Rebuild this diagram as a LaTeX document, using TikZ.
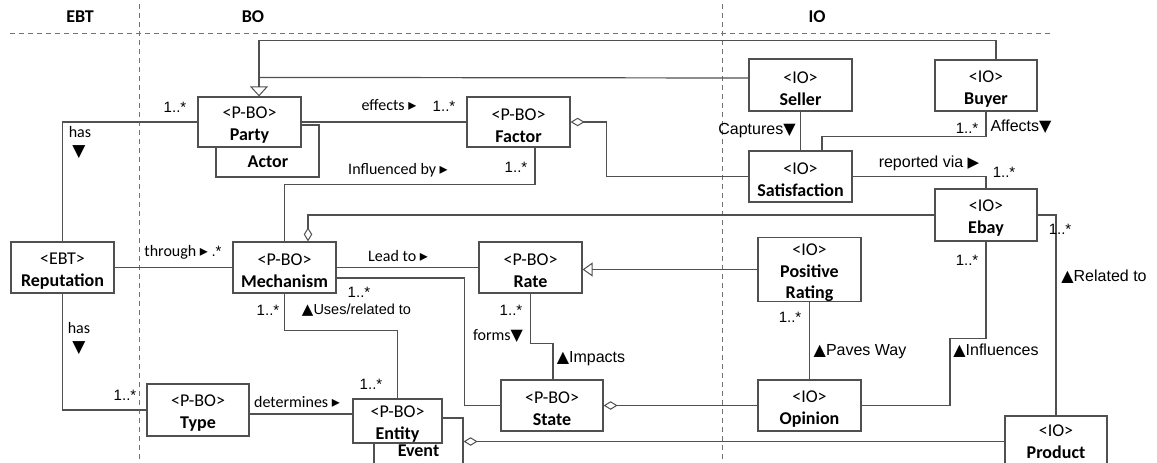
\documentclass[tikz,border=0pt]{standalone}
\usepackage{fontspec}
\setmainfont{Carlito}
\newfontfamily\arialf{Liberation Sans}
\newfontfamily\dejav{DejaVu Sans}
\usetikzlibrary{arrows.meta}
\definecolor{lc}{RGB}{80,80,80}
\definecolor{dc}{RGB}{115,115,115}
\newcommand\tdn[1][16]{{\dejav\fontsize{#1}{#1}\selectfont ▼}}
\newcommand\tup[1][16]{{\dejav\fontsize{#1}{#1}\selectfont ▲}}
\newcommand\trs{{\dejav\fontsize{16}{16}\selectfont ▸}}
\newcommand\trb{{\dejav\fontsize{15}{15}\selectfont ▶}}
\newcommand\fs{\rule{0pt}{18.5pt}}
\tikzset{
 box/.style={draw=lc, line width=1.2pt, fill=white, rectangle, inner sep=0pt, align=center,
   font=\fontsize{18}{22}\selectfont, minimum width=103pt},
 conn/.style={draw=lc, line width=1.2pt},
 agg/.style={conn, {Diamond[open, length=14pt, width=8.5pt, line width=1pt]}-},
 gen/.style={conn, -{Triangle[open, length=10pt, width=18pt, line width=1pt]}},
 gens/.style={conn, -{Triangle[open, length=10pt, width=14pt, line width=1pt]}},
 lbl/.style={inner sep=0pt, font=\fontsize{16}{16}\selectfont},
 albl/.style={inner sep=0pt, font=\arialf\fontsize{16}{16}\selectfont},
 mult/.style={inner sep=0pt, font=\arialf\fontsize{15}{15}\selectfont},
 hdr/.style={inner sep=0pt, font=\bfseries\fontsize{18}{18}\selectfont},
 sep/.style={draw=dc, line width=1pt, dash pattern=on 5pt off 4pt},
}
\begin{document}
\begin{tikzpicture}[x=1pt,y=-1pt]
\useasboundingbox (0,0) rectangle (1157,463);
\clip (0,0) rectangle (1157,463);
\fill[white] (0,0) rectangle (1157,463);

% separators and headers
\draw[sep] (10,33) -- (1050,33);
\draw[sep] (139,4) -- (139,463);
\draw[sep] (722,4) -- (722,463);
\node[hdr] (hebt) at (80,17) {EBT};
\node[hdr] (hbo) at (253,17) {BO};
\node[hdr] (hio) at (817,17) {IO};

% boxes (back ones first)
\node[box, minimum height=52pt] (actor) at (267.5,151) {};
\node[inner sep=0pt, font=\bfseries\fontsize{18}{18}\selectfont] (actortxt) at (268,162) {Actor};
\node[box, minimum height=50pt] (party) at (249.5,122) {\fs<P-BO>\\\textbf{Party}};
\node[box, minimum height=50pt] (factor) at (518.5,122) {\fs<P-BO>\\\textbf{Factor}};
\node[box, minimum height=52pt] (seller) at (800.5,85) {\fs<IO>\\\textbf{Seller}};
\node[box, minimum width=102pt, minimum height=51pt] (buyer) at (986,85.5) {\fs<IO>\\\textbf{Buyer}};
\node[box, minimum height=51pt] (satisfaction) at (800.5,176.5) {\fs<IO>\\\textbf{Satisfaction}};
\node[box, minimum width=102pt, minimum height=52pt] (ebay) at (986,215) {\fs<IO>\\\textbf{Ebay}};
\node[box, minimum height=51pt] (reputation) at (62.5,267.5) {\fs<EBT>\\\textbf{Reputation}};
\node[box, minimum height=51pt] (mechanism) at (284.5,267.5) {\fs<P-BO>\\\textbf{Mechanism}};
\node[box, minimum height=51pt] (rate) at (530.5,267.5) {\fs<P-BO>\\\textbf{Rate}};
\node[box, minimum height=63pt, font=\fontsize{18}{21.5}\selectfont] (posrating) at (809.5,269.5) {\fs<IO>\\\textbf{Positive}\\\textbf{Rating}};
\node[box, minimum width=102pt, minimum height=52pt] (type) at (198,410) {\fs<P-BO>\\\textbf{Type}};
\node[box, minimum width=89pt, minimum height=66pt] (event) at (418.5,451) {\textbf{Event}};
\node[box, minimum width=89pt, minimum height=44pt] (entity) at (397.5,421) {\fs<P-BO>\\\textbf{Entity}};
\node[box, minimum width=102pt, minimum height=51pt] (state) at (552,405.5) {\fs<P-BO>\\\textbf{State}};
\node[box, minimum height=51pt] (opinion) at (809.5,405.5) {\fs<IO>\\\textbf{Opinion}};
\node[box, minimum width=102pt, minimum height=51pt] (product) at (1056,441.5) {<IO>\\\textbf{Product}};

% generalisation to Party
\path ([xshift=9.5pt]party.north) ++(0,-19) coordinate (genj);
\draw[gen] ([xshift=10pt]buyer.north) -- ++(0,-19) -| ([xshift=9.5pt]party.north);
\draw[conn] ([yshift=7pt]seller.west) -- (genj);
% generalisation to Rate
\draw[gens] (posrating.west) -- (posrating.west -| rate.east);

% associations
\draw[conn] (party.west) -| (reputation.north);
\draw[conn] (party.east) -- (factor.west);
\draw[agg] (factor.east) -- ++(36,0) |- (satisfaction.west);
\draw[conn] ([xshift=16.5pt]factor.south) -- ++(0,37) -| (mechanism.north);
\draw[conn] (seller.south) -- (satisfaction.north);
\draw[conn] (buyer.south) -- ++(0,25) -| ([xshift=21.5pt]satisfaction.north);
\draw[conn] (satisfaction.east) -| (ebay.north);
\draw[agg] ([xshift=23.5pt]mechanism.north) |- (ebay.west);
\draw[conn] (ebay.east) -| (product.north);
\draw[conn] (ebay.south) |- ++(-36,97) |- (opinion.east);
\draw[conn] (posrating.south) -- (opinion.north);
\draw[conn] (mechanism.east) -- (rate.west);
\draw[conn] ([yshift=-10.5pt]mechanism.east) -- ++(128,0) |- (state.west);
\draw[conn] (mechanism.south) -- ++(0,37) -| (entity.north);
\draw[conn] (reputation.east) -- (mechanism.west);
\draw[conn] (reputation.south) |- (type.west);
\draw[conn] ([yshift=-4pt]type.east) -- ([yshift=-4pt]type.east -| entity.west);
\draw[conn] (rate.south) -- ++(0,50) -| ([xshift=1pt]state.north);
\draw[agg] (state.east) -- (opinion.west);
\draw[agg] (event.east |- product.west) -- (product.west);

% labels
\node[mult] (m1) at (175,107) {1..*};
\node[lbl] (hasa) at (80,132) {has};
\node[lbl] (hasat) at (79,152) {\tdn[17]};
\node[lbl] (effects) at (389,105) {effects \trs};
\node[mult] (m2) at (444,106) {1..*};
\node[lbl] (influenced) at (398,170) {Influenced by \trs};
\node[mult] (m3) at (516,167) {1..*};
\node[albl] (captures) at (757,131) {Captures\tdn};
\node[mult] (m4) at (967,128) {1..*};
\node[albl] (affects) at (1021,127) {Affects\tdn};
\node[albl] (reported) at (929,163) {reported via \trb};
\node[mult] (m5) at (1004,172) {1..*};
\node[mult] (m6) at (1060,229) {1..*};
\node[albl] (related) at (1104,277) {\tup Related to};
\node[mult] (m7) at (967,260) {1..*};
\node[albl] (influences) at (996,351) {\tup Influences};
\node[mult] (m8) at (790,317) {1..*};
\node[albl] (paves) at (860,352) {\tup Paves Way};
\node[lbl] (leadto) at (398,256) {Lead to \trs};
\node[lbl] (through) at (183,252) {through \trs\ {\arialf\fontsize{15}{15}\selectfont.*}};
\node[mult] (m9) at (359,292) {1..*};
\node[mult] (m10) at (268,310) {1..*};
\node[inner sep=0pt, font=\arialf\fontsize{14.5}{14.5}\selectfont] (uses) at (356.5,310) {\tup[15]Uses/related to};
\node[mult] (m11) at (371,384) {1..*};
\node[lbl] (forms) at (498,336) {forms\tdn};
\node[mult] (m12) at (511,310) {1..*};
\node[albl] (impacts) at (591,359) {\tup Impacts};
\node[lbl] (determines) at (297,402) {determines \trs};
\node[lbl] (hasb) at (79,328) {has};
\node[lbl] (hasbt) at (79,348) {\tdn[17]};
\node[mult] (m13) at (125,395) {1..*};
\end{tikzpicture}
\end{document}
